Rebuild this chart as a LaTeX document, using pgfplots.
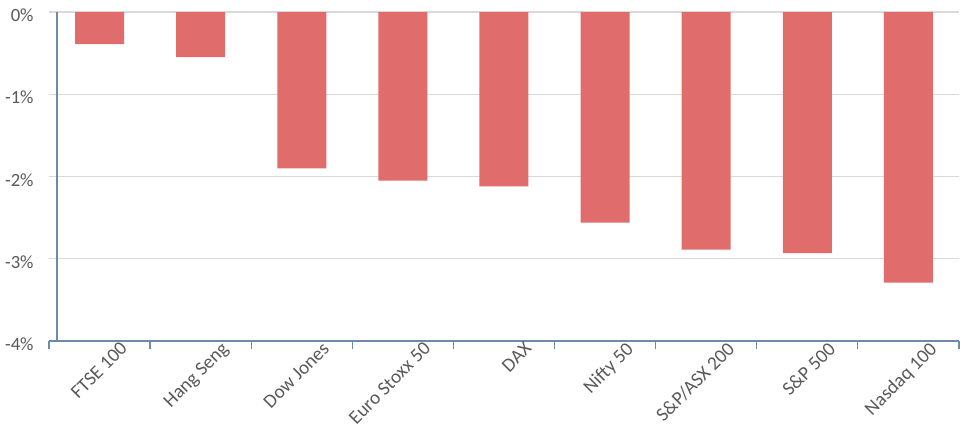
\documentclass[border=0pt]{standalone}
\usepackage{pgfplots}
\pgfplotsset{compat=1.18}
\usepackage{fontspec}
\setmainfont{Carlito}
\definecolor{barred}{RGB}{225,108,108}
\definecolor{gridgrey}{RGB}{217,217,217}
\definecolor{axisblue}{RGB}{110,138,170}
\definecolor{labelgrey}{RGB}{89,89,89}
\begin{document}
\begin{tikzpicture}[x=1pt,y=1pt]
\begin{axis}[
    scale only axis,
    width=682.5pt, height=246.75pt,
    xmin=-0.5, xmax=8.5,
    ymin=-4, ymax=0,
    clip=false,
    axis lines*=left,
    y axis line style={draw=none},
    x axis line style={draw=axisblue, line width=0.9pt},
    xtick={0,...,8},
    xticklabels={FTSE 100,Hang Seng,Dow Jones,Euro Stoxx 50,DAX,Nifty 50,S\&P/ASX 200,S\&P 500,Nasdaq 100},
    minor xtick={-0.5,0.5,...,8.5},
    tick align=outside,
    major tick length=0pt,
    minor tick length=6pt,
    minor tick style={draw=axisblue, line width=0.9pt},
    ytick={-4,-3,-2,-1,0},
    yticklabels={-4\%,-3\%,-2\%,-1\%,0\%},
    ymajorgrids,
    grid style={draw=gridgrey, line width=0.8pt},
    tick label style={text=labelgrey},
    yticklabel style={font=\fontsize{14}{16}\selectfont, xshift=-8pt, yshift=-2.5pt},
    xticklabel style={font=\fontsize{14.5}{16}\selectfont, rotate=45, anchor=north east, xshift=14pt, yshift=-7pt},
]
\addplot[ybar, bar width=36.75pt, fill=barred, draw=none] coordinates {
    (0,-0.39) (1,-0.55) (2,-1.90) (3,-2.05) (4,-2.12)
    (5,-2.56) (6,-2.89) (7,-2.93) (8,-3.29)
};
\draw[axisblue, line width=0.9pt] (axis cs:-0.42,0) -- (axis cs:-0.42,-4);
\path (axis description cs:-0.0538,1.0365) rectangle (axis description cs:1.00879,-0.2857);
\end{axis}
\end{tikzpicture}
\end{document}
